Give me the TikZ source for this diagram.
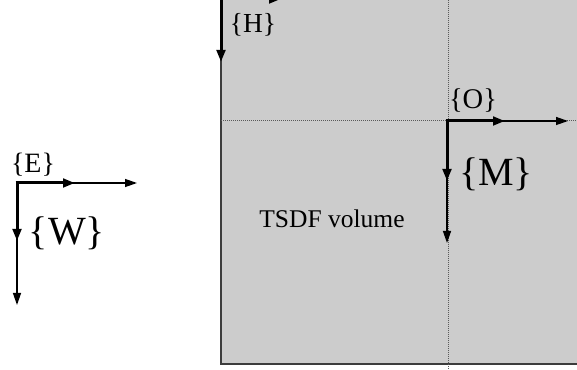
\documentclass[tikz,border=0pt]{standalone}
\usepackage{fontspec}
\setmainfont{Liberation Serif}
\usetikzlibrary{arrows.meta}
\begin{document}
\begin{tikzpicture}[x=1pt,y=1pt,
  thinarrow/.style={line width=1.3pt,-{Triangle[length=12pt,width=8pt]}},
  thickarrow/.style={line width=3pt,-{Triangle[length=12pt,width=8.5pt]}},
  guide/.style={gray!70!black,line width=1pt,dash pattern=on 1pt off 1pt},
  lbl/.style={inner sep=0pt,anchor=center}]
\useasboundingbox (0,0) rectangle (577,369);
\clip (0,0) rectangle (577,369);
% TSDF volume
\path[fill={rgb,255:red,204;green,204;blue,204},draw={rgb,255:red,60;green,60;blue,60},line width=1.5pt] (221,5) rectangle (620,400);
\node[lbl,font=\fontsize{25.5}{28}\selectfont] (tsdf) at (332,150) {TSDF volume};
% guides
\coordinate (vtop) at (448,369);
\coordinate (vbot) at (448,0);
\coordinate (hl) at (221,248);
\coordinate (hr) at (577,248);
\draw[guide] (vtop) -- (vbot);
\draw[guide] (hl) -- (hr);
% E frame
\coordinate (E) at (17,186);
\coordinate (Ex1) at (75,186);
\coordinate (Ex2) at (137,186);
\coordinate (Ey1) at (17,128);
\coordinate (Ey2) at (17,64);
\draw[thinarrow] (E) -- (Ex2);
\draw[thinarrow] (E) -- (Ey2);
\draw[thickarrow] ([xshift=-1.5pt]E) -- (Ex1);
\draw[thickarrow] ([yshift=1.5pt]E) -- (Ey1);
\node[lbl,font=\fontsize{28}{30}\selectfont] (Elbl) at (33,204) {\{E\}};
\node[lbl,font=\fontsize{40}{43}\selectfont] (Wlbl) at (67,136) {\{W\}};
% O frame
\coordinate (O) at (447,248);
\coordinate (Ox1) at (505,248);
\coordinate (Ox2) at (568,248);
\coordinate (Oy1) at (447,188);
\coordinate (Oy2) at (447,126);
\draw[thinarrow] (O) -- (Ox2);
\draw[thinarrow] (O) -- (Oy2);
\draw[thickarrow] ([xshift=-1.5pt]O) -- (Ox1);
\draw[thickarrow] ([yshift=1.5pt]O) -- (Oy1);
\node[lbl,font=\fontsize{28.5}{31}\selectfont] (Olbl) at (473,268) {\{O\}};
\node[lbl,font=\fontsize{40}{43}\selectfont] (Mlbl) at (496,195) {\{M\}};
% H frame
\coordinate (H) at (221,370);
\coordinate (Hx1) at (281,370);
\coordinate (Hy1) at (221,307);
\draw[thickarrow] ([xshift=-1.5pt]H) -- (Hx1);
\draw[thickarrow] ([yshift=1.5pt]H) -- (Hy1);
\node[lbl,font=\fontsize{27.5}{30}\selectfont] (Hlbl) at (253,344) {\{H\}};
\end{tikzpicture}
\end{document}
